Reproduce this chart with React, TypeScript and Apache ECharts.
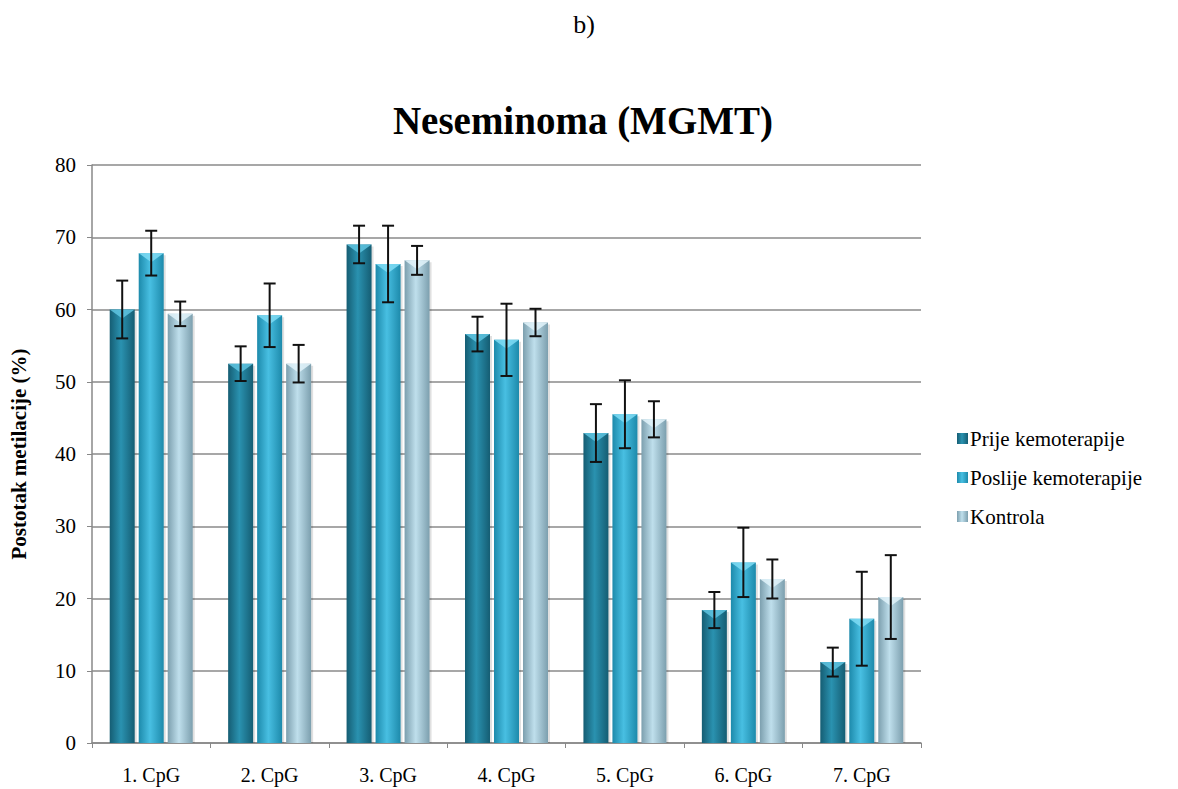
import React, { useEffect, useRef } from "react";
import * as echarts from "echarts";

const categories = ["1. CpG", "2. CpG", "3. CpG", "4. CpG", "5. CpG", "6. CpG", "7. CpG"];
const seriesNames = ["Prije kemoterapije", "Poslije kemoterapije", "Kontrola"];
const prije = [60.0, 52.5, 69.0, 56.6, 42.9, 18.4, 11.2];
const prijeErr = [4.0, 2.4, 2.6, 2.4, 4.0, 2.5, 2.0];
const poslije = [67.8, 59.2, 66.3, 55.8, 45.5, 25.0, 17.2];
const poslijeErr = [3.1, 4.4, 5.3, 5.0, 4.7, 4.8, 6.5];
const kontrola = [59.4, 52.5, 66.8, 58.2, 44.8, 22.7, 20.2];
const kontrolaErr = [1.7, 2.6, 2.0, 1.9, 2.5, 2.7, 5.8];

const values = [prije, poslije, kontrola];
const errors = [prijeErr, poslijeErr, kontrolaErr];

const BAR_W = 25;
const BAR_GAP = 4;

function grad(edge: string, mid: string) {
  return new echarts.graphic.LinearGradient(0, 0, 1, 0, [
    { offset: 0, color: edge },
    { offset: 0.45, color: mid },
    { offset: 1, color: edge },
  ]);
}

const fills = [
  () => grad("#155d73", "#2a92b0"),
  () => grad("#1d8aab", "#48bfe2"),
  () => grad("#7c9fae", "#bfdfec"),
];
const capColors = ["#5fc4e0", "#7fdcf5", "#e2f3fa"];

export default function App() {
  const ref = useRef<HTMLDivElement>(null);
  useEffect(() => {
    document.body.style.margin = "0";
    const chart = echarts.init(ref.current!, null, { renderer: "svg" });
    const serif = "Liberation Serif";

    const barSeries = values.map((vals, si) => ({
      name: seriesNames[si],
      type: "custom",
      data: vals.map((v, i) => [i, v]),
      z: 2,
      itemStyle: { color: fills[si]() },
      renderItem: (params: any, api: any) => {
        const idx = api.value(0);
        const v = api.value(1);
        const top = api.coord([idx, v]);
        const base = api.coord([idx, 0]);
        const cx = top[0] + (si - 1) * (BAR_W + BAR_GAP);
        const x0 = cx - BAR_W / 2;
        const h = base[1] - top[1];
        return {
          type: "group",
          children: [
            {
              type: "rect",
              shape: { x: x0 + 2, y: top[1] + 2, width: BAR_W, height: h - 2 },
              style: { fill: "rgba(0,0,0,0.12)" },
            },
            {
              type: "rect",
              shape: { x: x0, y: top[1], width: BAR_W, height: h },
              style: { fill: fills[si]() },
            },
            {
              type: "polygon",
              shape: {
                points: [
                  [x0, top[1]],
                  [x0 + BAR_W, top[1]],
                  [cx, top[1] + 9],
                ],
              },
              style: { fill: capColors[si], opacity: 0.85 },
            },
          ],
        };
      },
    }));

    const errSeries = values.map((vals, si) => ({
      name: seriesNames[si] + " err",
      type: "custom",
      data: vals.map((v, i) => [i, v - errors[si][i], v + errors[si][i]]),
      z: 5,
      silent: true,
      renderItem: (params: any, api: any) => {
        const idx = api.value(0);
        const lo = api.coord([idx, api.value(1)]);
        const hi = api.coord([idx, api.value(2)]);
        const cx = lo[0] + (si - 1) * (BAR_W + BAR_GAP);
        const cap = 6;
        const st = { stroke: "#111", lineWidth: 2 };
        return {
          type: "group",
          children: [
            { type: "line", shape: { x1: cx, y1: lo[1], x2: cx, y2: hi[1] }, style: st },
            { type: "line", shape: { x1: cx - cap, y1: lo[1], x2: cx + cap, y2: lo[1] }, style: st },
            { type: "line", shape: { x1: cx - cap, y1: hi[1], x2: cx + cap, y2: hi[1] }, style: st },
          ],
        };
      },
    }));

    chart.setOption({
      animation: false,
      backgroundColor: "#ffffff",
      textStyle: { fontFamily: serif },
      title: [
        {
          text: "Neseminoma (MGMT)",
          left: 578,
          textAlign: "center",
          top: 96,
          textStyle: { fontFamily: serif, fontSize: 39, fontWeight: "bold", color: "#000" },
        },
      ],
      graphic: [
        {
          type: "text",
          x: 584,
          y: 24,
          style: {
            text: "b)",
            fontFamily: serif,
            fontSize: 26,
            fill: "#000",
            align: "center",
            verticalAlign: "middle",
          },
        },
        {
          type: "text",
          x: 19,
          y: 454,
          rotation: Math.PI / 2,
          style: {
            text: "Postotak metilacije (%)",
            fontFamily: serif,
            fontSize: 21,
            fontWeight: "bold",
            fill: "#000",
            align: "center",
            verticalAlign: "middle",
          },
        },
      ],
      legend: {
        orient: "vertical",
        left: 952,
        top: 423,
        itemWidth: 11,
        itemHeight: 11,
        itemGap: 18,
        data: seriesNames.map((n, i) => ({
          name: n,
          icon: "rect",
          itemStyle: { color: fills[i]() },
        })),
        textStyle: { fontFamily: serif, fontSize: 21, color: "#000", padding: [0, 0, 0, -3] },
      },
      grid: { left: 92, right: 257, top: 165, bottom: 46, containLabel: false },
      xAxis: {
        type: "category",
        data: categories,
        axisLine: { lineStyle: { color: "#888", width: 1.5 } },
        axisTick: { show: true, length: 5, lineStyle: { color: "#888" } },
        axisLabel: { fontFamily: serif, fontSize: 20, color: "#000", margin: 22 },
        splitLine: { show: false },
      },
      yAxis: {
        type: "value",
        min: 0,
        max: 80,
        interval: 10,
        axisLine: { show: true, lineStyle: { color: "#888", width: 1.5 } },
        axisTick: { show: true, inside: false, length: 5, lineStyle: { color: "#888" } },
        axisLabel: { fontFamily: serif, fontSize: 21, color: "#000", margin: 16 },
        splitLine: { show: true, lineStyle: { color: "#8a8a8a", width: 1.5 } },
      },
      series: [...barSeries, ...errSeries],
    });
    return () => chart.dispose();
  }, []);
  return <div ref={ref} style={{ width: 1178, height: 789 }} />;
}
